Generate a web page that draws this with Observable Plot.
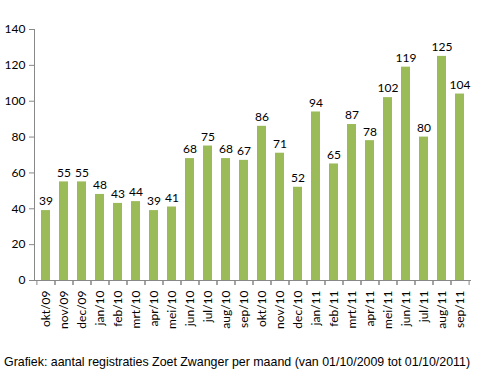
<!DOCTYPE html>
<html><head><meta charset="utf-8">
<script src="https://cdn.jsdelivr.net/npm/d3@7"></script>
<script src="https://cdn.jsdelivr.net/npm/@observablehq/plot@0.6"></script>
<style>
body{margin:0;background:#fff;}
#cap{font-family:"Liberation Sans",Arial,sans-serif;font-size:12.4px;color:#000;margin:20px 0 0 4px;white-space:nowrap;}
</style></head>
<body><div id="chart"></div><div id="cap">Grafiek: aantal registraties Zoet Zwanger per maand (van 01/10/2009 tot 01/10/2011)</div>
<script>
const months = ["okt/09","nov/09","dec/09","jan/10","feb/10","mrt/10","apr/10","mei/10","jun/10","jul/10","aug/10","sep/10","okt/10","nov/10","dec/10","jan/11","feb/11","mrt/11","apr/11","mei/11","jun/11","jul/11","aug/11","sep/11"];
const values = [39,55,55,48,43,44,39,41,68,75,68,67,86,71,52,94,65,87,78,102,119,80,125,104];
const yTicks = [0,20,40,60,80,100,120,140];
const data = months.map((m,i)=>({m, v: values[i]}));
const W = 480, H = 335, ML = 34, MR = 9;
const step = (W - ML - MR) / months.length;
const font = "Lato, 'Open Sans', sans-serif";
const chart = Plot.plot({
  width: W, height: H,
  marginLeft: ML, marginRight: MR, marginTop: 29, marginBottom: 55,
  style: {fontFamily: font, fontSize: "12px", color: "#000", background: "#fff"},
  x: {domain: months, paddingInner: 0.5, paddingOuter: 0.25, label: null},
  y: {domain: [0,140], label: null},
  marks: [
    Plot.barY(data, {x: "m", y: "v", fill: "#9BBB59"}),
    Plot.text(data, {x: "m", y: "v", text: d => String(d.v), dy: -9, fill: "#000", fontSize: 12}),
    Plot.axisY({ticks: yTicks, tickSize: 5, tickPadding: 4, stroke: "#888", fill: "#000", fontSize: 12, label: null}),
    Plot.frame({anchor: "left", stroke: "#888"}),
    Plot.ruleY([0], {stroke: "#888"}),
    Plot.axisX({tickSize: 5, tickFormat: () => "", dx: -step/2, stroke: "#888", label: null}),
    Plot.axisX({tickSize: 5, tickFormat: () => "", dx: step/2, stroke: "#888", label: null}),
    Plot.axisX({tickSize: 0, tickRotate: -90, tickPadding: 10, fill: "#000", fontSize: 12, label: null})
  ]
});
document.getElementById("chart").appendChild(chart);
</script></body></html>
